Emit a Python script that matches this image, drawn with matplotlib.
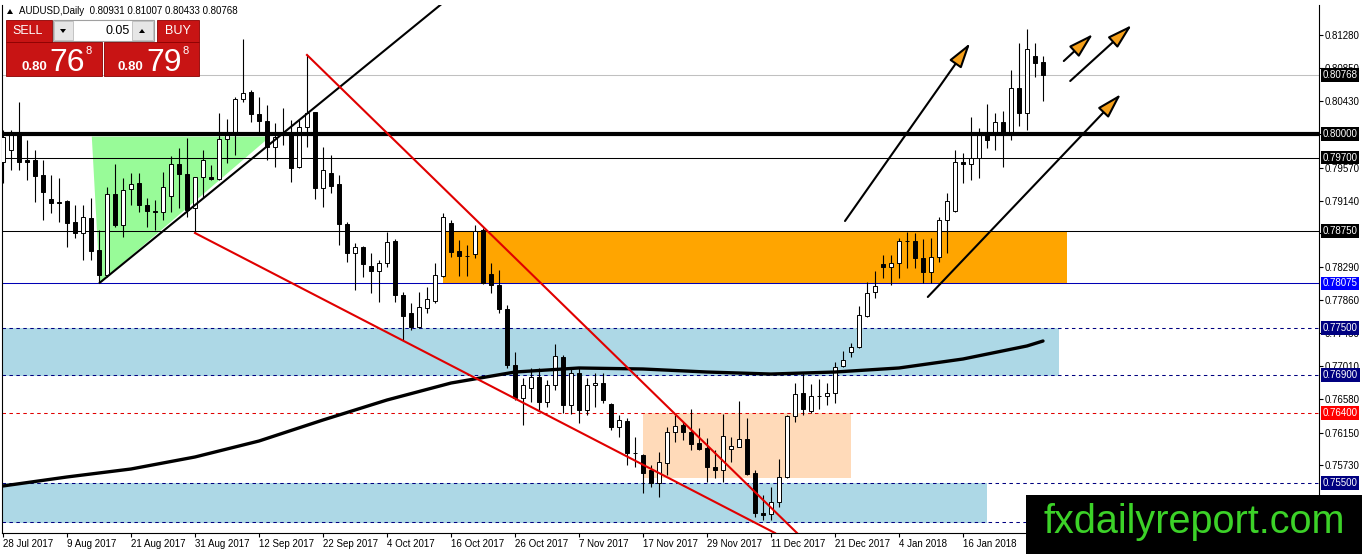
import matplotlib
matplotlib.use('Agg')
import matplotlib.pyplot as plt
import matplotlib.transforms as mtransforms
from matplotlib.patches import Rectangle, Polygon
import numpy as np
import pandas as pd

plt.rcParams['font.family'] = ['Liberation Sans', 'DejaVu Sans']
plt.rcParams['lines.scale_dashes'] = False

W, H = 1362, 554

# daily bars 28 Jul 2017 .. 30 Jan 2018 (MT4 has no bar on 25 Dec / 1 Jan)
dates = pd.bdate_range('2017-07-28', '2018-01-30', freq='C',
                       holidays=['2017-12-25', '2018-01-01'])

opens = [
    0.79642, 0.79797, 0.80016, 0.79668, 0.79668, 0.79475, 0.79165, 0.79126, 0.79139, 0.78868,
    0.78726, 0.78920, 0.78507, 0.78185, 0.79229, 0.78830, 0.79294, 0.79371, 0.79088, 0.79010,
    0.78997, 0.79204, 0.79616, 0.79487, 0.79049, 0.79449, 0.79449, 0.79423, 0.79939, 0.80029,
    0.80455, 0.80545, 0.80261, 0.80171, 0.79836, 0.80003, 0.80016, 0.79578, 0.80094, 0.80287,
    0.79307, 0.79500, 0.79358, 0.78842, 0.78468, 0.78546, 0.78301, 0.78236, 0.78339, 0.78623,
    0.77927, 0.77694, 0.77514, 0.77759, 0.77849, 0.78172, 0.78855, 0.78494, 0.78430, 0.78455,
    0.78765, 0.78197, 0.78056, 0.77746, 0.77024, 0.76598, 0.76727, 0.76869, 0.76546, 0.76766,
    0.77127, 0.76508, 0.76920, 0.76443, 0.76766, 0.76791, 0.76520, 0.76224, 0.76301, 0.75888,
    0.75863, 0.75669, 0.75501, 0.75759, 0.76159, 0.76250, 0.76159, 0.76017, 0.75953, 0.75708,
    0.75669, 0.75940, 0.75966, 0.76069, 0.75630, 0.75114, 0.75101, 0.75256, 0.75579, 0.76366,
    0.76662, 0.76430, 0.76624, 0.76624, 0.76662, 0.77011, 0.77191, 0.77256, 0.77656, 0.77965,
    0.78326, 0.78288, 0.78339, 0.78623, 0.78623, 0.78404, 0.78223, 0.78417, 0.78894, 0.79010,
    0.79642, 0.79616, 0.79694, 0.79991, 0.79991, 0.80158, 0.80016, 0.80597, 0.80274, 0.81010,
    0.80931]

highs = [
    0.80055, 0.80055, 0.80416, 0.79926, 0.79797, 0.79668, 0.79475, 0.79436, 0.79152, 0.79088,
    0.79088, 0.79178, 0.78765, 0.79320, 0.79616, 0.79436, 0.79500, 0.79500, 0.79178, 0.79152,
    0.79513, 0.79720, 0.79823, 0.79952, 0.79449, 0.79797, 0.79604, 0.80274, 0.80197, 0.80481,
    0.81229, 0.80571, 0.80481, 0.80378, 0.80145, 0.80339, 0.80184, 0.80184, 0.81023, 0.80287,
    0.79836, 0.79733, 0.79475, 0.78868, 0.78597, 0.78559, 0.78468, 0.78378, 0.78739, 0.78649,
    0.77965, 0.77823, 0.77965, 0.78030, 0.78339, 0.78984, 0.78894, 0.78636, 0.78572, 0.78830,
    0.78791, 0.78339, 0.78249, 0.77798, 0.77191, 0.76856, 0.76985, 0.76985, 0.76830, 0.77294,
    0.77153, 0.76985, 0.76998, 0.76856, 0.76920, 0.76920, 0.76530, 0.76379, 0.76340, 0.76095,
    0.75870, 0.75734, 0.75901, 0.76224, 0.76379, 0.76288, 0.76456, 0.76211, 0.76082, 0.75927,
    0.76391, 0.76095, 0.76559, 0.76340, 0.75669, 0.75347, 0.75450, 0.75811, 0.76379, 0.76791,
    0.76933, 0.76778, 0.76843, 0.76791, 0.77062, 0.77204, 0.77307, 0.77785, 0.78094, 0.78236,
    0.78443, 0.78443, 0.78662, 0.78739, 0.78726, 0.78649, 0.78662, 0.78933, 0.79242, 0.79797,
    0.79758, 0.80223, 0.80081, 0.80390, 0.80274, 0.80300, 0.80829, 0.81177, 0.81358, 0.81177,
    0.81007]

lows = [
    0.79371, 0.79539, 0.79539, 0.79410, 0.79126, 0.78894, 0.78984, 0.78868, 0.78546, 0.78662,
    0.78378, 0.78378, 0.78094, 0.78159, 0.78804, 0.78675, 0.79088, 0.78997, 0.78804, 0.78765,
    0.78894, 0.78997, 0.79049, 0.78933, 0.78726, 0.79191, 0.79410, 0.79410, 0.79629, 0.79733,
    0.80416, 0.80158, 0.80016, 0.79668, 0.79578, 0.79862, 0.79384, 0.79565, 0.79836, 0.79165,
    0.79062, 0.79242, 0.78572, 0.78352, 0.77991, 0.78159, 0.77952, 0.77836, 0.78288, 0.77836,
    0.77346, 0.77475, 0.77500, 0.77694, 0.77823, 0.78159, 0.78417, 0.78172, 0.78172, 0.78404,
    0.78070, 0.77952, 0.77694, 0.76985, 0.76572, 0.76250, 0.76546, 0.76443, 0.76482, 0.76701,
    0.76404, 0.76391, 0.76275, 0.76379, 0.76482, 0.76533, 0.76185, 0.76095, 0.75734, 0.75708,
    0.75372, 0.75450, 0.75321, 0.75605, 0.76030, 0.76056, 0.75927, 0.75927, 0.75514, 0.75566,
    0.75514, 0.75772, 0.75960, 0.75605, 0.75063, 0.75024, 0.75024, 0.75192, 0.75566, 0.76288,
    0.76379, 0.76404, 0.76456, 0.76508, 0.76533, 0.76998, 0.77127, 0.77243, 0.77643, 0.77888,
    0.78146, 0.78056, 0.78146, 0.78275, 0.78275, 0.78081, 0.78081, 0.78352, 0.78468, 0.78997,
    0.79371, 0.79410, 0.79436, 0.79823, 0.79797, 0.79578, 0.79926, 0.80107, 0.80055, 0.80739,
    0.80433]

closes = [
    0.79965, 0.79991, 0.79642, 0.79642, 0.79462, 0.79255, 0.79113, 0.79113, 0.78855, 0.78726,
    0.78933, 0.78494, 0.78185, 0.79229, 0.78830, 0.79281, 0.79358, 0.79088, 0.79010, 0.78997,
    0.79320, 0.79616, 0.79487, 0.79023, 0.79449, 0.79668, 0.79423, 0.79939, 0.79991, 0.80455,
    0.80532, 0.80261, 0.80171, 0.79836, 0.79965, 0.80016, 0.79565, 0.80094, 0.80274, 0.79307,
    0.79539, 0.79333, 0.78842, 0.78468, 0.78546, 0.78326, 0.78236, 0.78339, 0.78610, 0.77927,
    0.77656, 0.77514, 0.77772, 0.77875, 0.78185, 0.78933, 0.78481, 0.78430, 0.78425, 0.78752,
    0.78081, 0.78056, 0.77746, 0.77024, 0.76598, 0.76766, 0.76869, 0.76546, 0.76766, 0.77140,
    0.76508, 0.76920, 0.76443, 0.76766, 0.76791, 0.76572, 0.76224, 0.76314, 0.75888, 0.75885,
    0.75630, 0.75501, 0.75772, 0.76159, 0.76237, 0.76159, 0.76004, 0.75940, 0.75708, 0.75669,
    0.76108, 0.75979, 0.76069, 0.75617, 0.75114, 0.75089, 0.75256, 0.75579, 0.76366, 0.76649,
    0.76456, 0.76624, 0.76620, 0.76662, 0.76998, 0.77088, 0.77256, 0.77669, 0.77952, 0.78043,
    0.78288, 0.78339, 0.78623, 0.78620, 0.78404, 0.78223, 0.78417, 0.78894, 0.79139, 0.79642,
    0.79616, 0.79694, 0.79991, 0.79926, 0.80158, 0.80016, 0.80597, 0.80274, 0.81100, 0.80919,
    0.80768]

# moving average every 8 bars
ma_bars = [0, 8, 16, 24, 32, 40, 48, 56, 64, 72, 80, 88, 96, 104, 112, 120, 128, 130]
ma_values = [0.75463, 0.75579, 0.75682, 0.75837, 0.76043, 0.76314, 0.76572, 0.76791, 0.76933,
             0.76985, 0.76972, 0.76933, 0.76907, 0.76933, 0.76985, 0.77101, 0.77269, 0.77333]

y_ticks = [0.81280, 0.80850, 0.80430, 0.80000, 0.79570, 0.79140, 0.78720, 0.78290,
           0.77860, 0.77430, 0.77010, 0.76580, 0.76150, 0.75730, 0.75300, 0.74870]
# these tick labels sit under a level box or the watermark in the original
hidden_ticks = [0.80000, 0.78720, 0.75300, 0.74870]

# drawn objects: (bar_from, bar_to, price_low, price_high)
zone_blue_upper = (-1, 132, 0.7688, 0.7750)
zone_blue_lower = (-1, 123, 0.7498, 0.7550)
zone_orange = (55, 133, 0.78075, 0.7875)
zone_peach = (80, 106, 0.75566, 0.7640)
triangle_green = [(11.1, 0.7997), (33.4, 0.7997), (12.1, 0.78085)]

trend_black = (12.1, 0.78085, 56.0, 0.8178)
trend_red_1 = (24.0, 0.78726, 96.5, 0.74856)
trend_red_2 = (38.0, 0.81023, 99.25, 0.74856)

arrows = [(105.25, 0.78881, 120.9, 0.81177),
          (132.6, 0.80945, 136.25, 0.81293),
          (133.4, 0.80687, 141.1, 0.81409),
          (115.6, 0.77901, 139.75, 0.80519)]

# horizontal levels: price, color, width, style, label box colour
levels = [
    (0.80768, '#c0c0c0', 0.75, '-', 'black'),
    (0.80000, 'black', 3.0, '-', 'black'),
    (0.79700, 'black', 0.75, '-', 'black'),
    (0.78750, 'black', 0.75, '-', 'black'),
    (0.78075, '#0000b4', 0.75, '-', '#0000ff'),
    (0.77500, '#000080', 0.75, '--', '#000080'),
    (0.76900, '#000080', 0.75, '--', '#000080'),
    (0.76400, '#e00000', 0.75, '--', '#ff0000'),
    (0.75500, '#000080', 0.75, '--', '#000080'),
    (0.75000, '#000080', 0.75, '--', None),
]

fig = plt.figure(figsize=(W / 100, H / 100), dpi=100)
ax = fig.add_axes([2 / W, (H - 533) / H, (1319 - 2) / W, (533 - 5) / H])
ax.set_xlim(-0.125, 164.5)
ax.set_ylim(0.748563, 0.816675)

# zones behind everything
for b0, b1, lo, hi in [zone_blue_upper, zone_blue_lower]:
    ax.add_patch(Rectangle((b0, lo), b1 - b0, hi - lo, fc='#add8e6', ec='none', zorder=0.5))
b0, b1, lo, hi = zone_orange
ax.add_patch(Rectangle((b0, lo), b1 - b0, hi - lo, fc='#ffa500', ec='none', zorder=0.6))
b0, b1, lo, hi = zone_peach
ax.add_patch(Rectangle((b0, lo), b1 - b0, hi - lo, fc='#ffdab9', ec='none', zorder=0.6))
ax.add_patch(Polygon(triangle_green, closed=True, fc='#98fb98', ec='none', zorder=0.6))

# levels
for price, col, lw, ls, box in levels:
    dash = (0, (2.5, 2.5)) if ls == '--' else '-'
    z = 5 if lw > 1 else 1
    ax.axhline(price, color=col, lw=lw, linestyle=dash, zorder=z)

# candles
x = np.arange(len(opens))
o = np.array(opens)
h = np.array(highs)
l = np.array(lows)
c = np.array(closes)
up = c >= o
ax.vlines(x, l, h, color='black', lw=0.8, zorder=3)
body_lo = np.minimum(o, c)
body_h = np.maximum(np.abs(c - o), 0.00004)
ax.bar(x[up], body_h[up], bottom=body_lo[up], width=0.62, color='white',
       edgecolor='black', linewidth=0.7, zorder=4)
ax.bar(x[~up], body_h[~up], bottom=body_lo[~up], width=0.62, color='black',
       edgecolor='black', linewidth=0.7, zorder=4)

# moving average
ax.plot(ma_bars, ma_values, color='black', lw=2.4, solid_capstyle='round', zorder=6)

# trend lines
for (x0, y0, x1, y1), col in [(trend_black, 'black'), (trend_red_1, '#e00000'), (trend_red_2, '#e00000')]:
    ax.plot([x0, x1], [y0, y1], color=col, lw=1.5, zorder=6)

for x0, y0, x1, y1 in arrows:
    ax.annotate('', xy=(x1, y1), xytext=(x0, y0),
                arrowprops=dict(arrowstyle='-|>,head_length=1.1,head_width=0.32',
                                mutation_scale=14, lw=1.5, fc='#f5a01a', ec='black',
                                shrinkA=0, shrinkB=0),
                zorder=7, annotation_clip=False)

# axes styling, MT4 like
ax.spines['top'].set_visible(False)
for side in ['left', 'bottom', 'right']:
    ax.spines[side].set_linewidth(0.8)
ax.yaxis.tick_right()
ax.set_yticks(y_ticks)
ax.set_yticklabels(['' if t in hidden_ticks else '%.5f' % t for t in y_ticks])
ax.tick_params(axis='y', length=3, pad=1, labelsize=7, width=0.8)

# last date label (26 Jan 2018) is under the watermark
tick_bars = list(range(0, len(dates) - 8, 8))
ax.set_xticks(tick_bars)
ax.set_xticklabels([f"{dates[i].day} {dates[i].strftime('%b %Y')}" for i in tick_bars])
ax.tick_params(axis='x', length=3, pad=1, labelsize=7, width=0.8)
for lbl in ax.get_xticklabels():
    lbl.set_ha('left')

# price labels on the right scale
trans = mtransforms.blended_transform_factory(ax.transAxes, ax.transData)
for price, col, lw, ls, box in levels:
    if box is None:
        continue
    ax.text(1.0 + 3.5 / 1317, price, '%.5f' % price, transform=trans, color='white',
            fontsize=7, va='center', ha='left', clip_on=False, zorder=10,
            bbox=dict(boxstyle='square,pad=0.2', fc=box, ec='none'))


def px_rect(x0, y0, x1, y1, **kw):
    r = Rectangle((x0 / W, 1 - y1 / H), (x1 - x0) / W, (y1 - y0) / H,
                  transform=fig.transFigure, **kw)
    fig.add_artist(r)


def px_text(px, py, s, **kw):
    fig.text(px / W, 1 - py / H, s, **kw)


def px_poly(pts, **kw):
    fig.add_artist(Polygon([(a / W, 1 - b / H) for a, b in pts], closed=True,
                           transform=fig.transFigure, **kw))


# title
px_poly([(7, 14), (13, 14), (10, 9)], fc='black', ec='none', zorder=20)
px_text(19, 11, 'AUDUSD,Daily  0.80931 0.81007 0.80433 0.80768', fontsize=7,
        va='center', ha='left', zorder=20)

# one-click trading panel
red = '#c81414'
px_rect(6, 20, 52, 42, fc=red, ec='#8b0000', lw=0.6, zorder=20)
px_text(28, 31, 'SELL', color='white', fontsize=9, ha='center', va='center', zorder=21)
px_rect(157, 20, 199, 42, fc=red, ec='#8b0000', lw=0.6, zorder=20)
px_text(178, 31, 'BUY', color='white', fontsize=9, ha='center', va='center', zorder=21)
px_rect(53, 20, 154, 41, fc='white', ec='#a0a0a0', lw=0.8, zorder=20)
px_rect(54, 21, 73, 40, fc='#e6e6e6', ec='#b0b0b0', lw=0.5, zorder=21)
px_rect(132, 21, 153, 40, fc='#e6e6e6', ec='#b0b0b0', lw=0.5, zorder=21)
px_poly([(60, 29), (66, 29), (63, 33)], fc='black', ec='none', zorder=22)
px_poly([(139, 33), (145, 33), (142, 29)], fc='black', ec='none', zorder=22)
px_text(130, 31, '0.05', fontsize=9, ha='right', va='center', zorder=22)

px_rect(6, 42, 102, 76, fc=red, ec='#8b0000', lw=0.6, zorder=20)
px_rect(104, 42, 199, 76, fc=red, ec='#8b0000', lw=0.6, zorder=20)
for x0, big in [(21, '76'), (118, '79')]:
    px_text(x0, 70, '0.80', color='white', fontsize=9.5, fontweight='bold',
            ha='left', va='baseline', zorder=21)
    px_text(x0 + 28, 71, big, color='white', fontsize=23, ha='left', va='baseline', zorder=21)
    px_text(x0 + 64, 46, '8', color='white', fontsize=8, ha='left', va='top', zorder=21)

# watermark
px_rect(1026, 495, 1362, 554, fc='black', ec='none', zorder=30)
px_text(1194, 533, 'fxdailyreport.com', color='#3cd228', fontsize=28.5,
        ha='center', va='baseline', zorder=31)

fig.savefig('out.png', dpi=100)
